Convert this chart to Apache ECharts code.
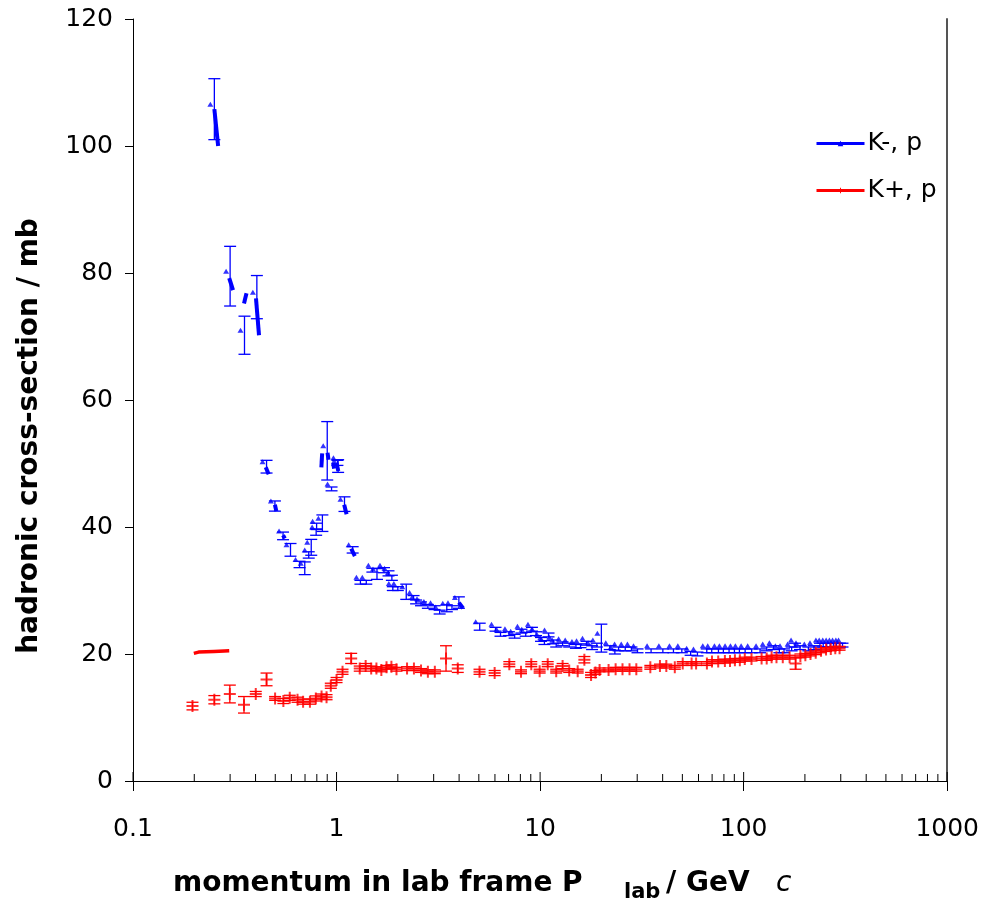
<!DOCTYPE html>
<html>
<head>
<meta charset="utf-8">
<script src="https://cdn.jsdelivr.net/npm/echarts@6/dist/echarts.min.js"></script>
<style>
  html, body { margin: 0; padding: 0; background: #fff; }
  #chart { width: 982px; height: 904px; }
</style>
</head>
<body>
<div id="chart"></div>
<script>
// K-p total cross-section: [momentum GeV/c, sigma mb, error mb]
const kMinusPoints = [
  [0.251,105.8,4.8],[0.300,79.5,4.7],[0.353,70.2,3.0],[0.406,76.2,3.4],
  [0.453,49.5,1.0],[0.498,43.3,0.8],[0.546,38.6,0.6],[0.594,36.4,1.0],
  [0.658,34.1,0.5],[0.698,33.5,1.0],[0.730,35.6,0.5],[0.751,36.8,1.25],
  [0.794,39.2,0.5],[0.798,40.1,0.5],[0.852,40.6,1.3],[0.900,52.0,4.6],
  [0.945,46.0,0.3],[1.01,50.1,0.4],[1.018,49.6,1.0],[1.094,43.6,1.15],
  [1.20,36.4,0.5],[1.31,31.3,0.3],[1.40,31.3,0.3],[1.50,33.2,0.3],
  [1.58,32.6,0.85],[1.71,33.2,0.4],[1.80,32.7,0.4],[1.87,32.0,0.4],
  [1.89,30.3,0.3],[2.00,30.3,0.3],[2.20,29.8,1.2],[2.39,28.9,0.3],
  [2.46,28.2,0.3],[2.60,27.9,0.3],[2.81,27.5,0.3],[3.03,27.3,0.3],
  [3.21,26.6,0.3],[3.48,27.2,0.55],[3.69,27.3,0.3],[3.99,28.1,0.9],
  [5.05,24.3,0.55],[6.04,23.9,0.3],[6.39,23.1,0.3],[7.03,23.2,0.3],
  [7.50,22.8,0.3],[8.10,23.6,0.3],[8.50,23.1,0.3],[9.12,23.9,0.3],
  [9.55,23.2,0.3],[10.1,22.3,0.3],[10.5,21.8,0.3],[11.0,23.0,0.3],
  [11.6,21.9,0.3],[12.0,21.4,0.3],[12.9,21.6,0.3],[13.9,21.4,0.3],
  [15.0,21.2,0.3],[15.8,21.3,0.3],[16.9,21.7,0.3],[18.0,21.0,0.3],
  [19.0,21.4,0.3],[20.0,22.5,2.2],[22.0,21.0,0.3],[23.3,20.3,0.3],
  [24.3,20.8,0.3],[26.2,20.8,0.3],[28.1,20.8,0.3],[30.1,20.5,0.3],
  [35.1,20.5,0.3],[40.1,20.5,0.3],[45.2,20.5,0.3],[49.7,20.5,0.3],
  [54.9,20.1,0.3],[59.3,20.0,0.3],[65.9,20.5,0.3],[69.7,20.5,0.3],
  [75.2,20.5,0.3],[79.5,20.5,0.3],[84.8,20.5,0.3],[90.1,20.5,0.3],
  [95.3,20.5,0.3],[101.7,20.5,0.3],[109.5,20.5,0.3],[120.4,20.5,0.3],
  [129.8,20.8,0.3],[140,21.0,0.3],[149.8,20.5,0.3],[157.9,20.5,0.3],
  [172.1,20.8,0.3],[178.9,21.4,0.3],[189.2,21.0,0.3],[207.9,20.8,0.3],
  [221.6,21.0,0.3],[237,21.4,0.3],[246,21.4,0.3],[256,21.4,0.3],
  [266,21.4,0.3],[276,21.4,0.3],[286,21.4,0.3],[297,21.4,0.3],[306,21.4,0.3]
];

// densely sampled K-p runs, drawn as continuous strokes
const kMinusDense = [
  [[0.251,105.8],[0.262,100.0]],
  [[0.297,79.2],[0.310,77.3]],
  [[0.351,75.2],[0.361,76.8]],
  [[0.402,76.0],[0.416,70.2]],
  [[0.449,49.4],[0.464,48.3]],
  [[0.498,43.5],[0.506,42.5]],
  [[0.546,38.7],[0.557,38.2]],
  [[0.842,49.4],[0.850,51.6]],
  [[0.903,51.7],[0.913,50.6]],
  [[0.962,50.1],[0.973,49.2]],
  [[1.00,50.1],[1.02,48.8]],
  [[1.09,43.5],[1.12,42.0]],
  [[1.18,36.6],[1.23,35.4]],
  [[3.99,28.1],[4.18,27.2]]
];

// K+p total cross-section: [momentum GeV/c, sigma mb, error mb]
const kPlusPoints = [
  [0.196,11.8,0.6],[0.251,12.8,0.65],[0.299,13.7,1.4],[0.351,12.0,1.3],
  [0.401,13.7,0.4],[0.453,16.0,1.0],[0.499,13.0,0.3],[0.548,12.6,0.4],
  [0.589,13.1,0.4],[0.643,12.8,0.4],[0.685,12.5,0.4],[0.740,12.5,0.4],
  [0.791,13.0,0.4],[0.844,13.3,0.4],[0.893,13.2,0.4],[0.937,15.0,0.4],
  [1.0,15.9,0.4],[1.07,17.2,0.4],[1.18,19.3,0.8],[1.30,17.7,0.4],
  [1.39,18.1,0.4],[1.48,17.7,0.4],[1.57,17.7,0.3],[1.66,17.5,0.3],
  [1.76,17.9,0.3],[1.86,18.0,0.3],[1.97,17.6,0.3],[2.22,17.7,0.3],
  [2.40,17.7,0.3],[2.60,17.4,0.3],[2.81,17.2,0.3],[3.04,17.2,0.3],
  [3.45,19.3,2.0],[3.94,17.7,0.6],[5.04,17.2,0.4],[5.98,17.0,0.4],
  [7.06,18.4,0.4],[8.06,17.2,0.3],[9.05,18.4,0.4],[9.95,17.3,0.3],
  [10.9,18.4,0.4],[12.0,17.3,0.3],[12.9,18.1,0.4],[13.9,17.4,0.3],
  [15.3,17.3,0.3],[16.5,19.1,0.5],[17.8,16.7,0.4],[18.7,17.1,0.3],
  [19.6,17.5,0.3],[21.7,17.5,0.3],[23.5,17.6,0.3],[25.4,17.6,0.3],
  [27.5,17.6,0.3],[29.7,17.6,0.3],[34.8,17.9,0.3],[38.8,18.1,0.3],
  [41.7,18.1,0.3],[45.9,17.9,0.3],[50.2,18.5,0.3],[55.5,18.5,0.3],
  [58.4,18.5,0.3],[66.0,18.5,0.3],[69.9,18.8,0.3],[75.0,18.8,0.3],
  [80.9,18.9,0.3],[85.7,18.9,0.3],[90.6,19.0,0.3],[95.8,19.0,0.3],
  [101.3,19.2,0.3],[109.3,19.2,0.3],[122.5,19.3,0.3],[129.8,19.3,0.3],
  [137.2,19.5,0.3],[145,19.5,0.3],[155.7,19.5,0.3],[168.2,19.5,0.3],
  [180,18.5,0.9],[190,19.7,0.3],[201,19.8,0.3],[213,20.0,0.3],
  [226,20.2,0.3],[240,20.5,0.3],[254,20.7,0.3],[268,20.8,0.3],
  [282,20.9,0.3],[296,20.9,0.3]
];

// densely sampled K+p run at low momentum
const kPlusDense = [
  [[0.199,20.1],[0.21,20.3],[0.25,20.4],[0.297,20.5]]
];

const xTicks = [0.1, 1, 10, 100, 1000];
const yTicks = [0, 20, 40, 60, 80, 100, 120];

const BLUE = '#0000ff';
const RED = '#ff0000';
const FONT = 'DejaVu Sans';
const PLUS = 'path://M5,0h2v5h5v2h-5v5h-2v-5h-5v-2h5z';

// minor decade ticks 2..9 between the labelled decades
const minorTicks = [];
for (let d = 0; d < xTicks.length - 1; d++) {
  for (let k = 2; k <= 9; k++) minorTicks.push(+(xTicks[d] * k).toPrecision(3));
}

function errorBars(color) {
  return function (params, api) {
    const x = api.value(0), y = api.value(1), e = api.value(2);
    const top = api.coord([x, y + e]);
    const bot = api.coord([x, y - e]);
    const hw = 6;
    const st = { stroke: color, lineWidth: 1.3 };
    return {
      type: 'group',
      children: [
        { type: 'line', shape: { x1: top[0], y1: top[1], x2: bot[0], y2: bot[1] }, style: st },
        { type: 'line', shape: { x1: top[0] - hw, y1: top[1], x2: top[0] + hw, y2: top[1] }, style: st },
        { type: 'line', shape: { x1: bot[0] - hw, y1: bot[1], x2: bot[0] + hw, y2: bot[1] }, style: st }
      ]
    };
  };
}

function upTicks(len) {
  return function (params, api) {
    const p = api.coord([api.value(0), 0]);
    return {
      type: 'line',
      shape: { x1: p[0], y1: p[1], x2: p[0], y2: p[1] - len },
      style: { stroke: '#000', lineWidth: 1 }
    };
  };
}

const series = [];
kMinusDense.forEach(seg => series.push({
  name: 'K-, p', type: 'line', data: seg, showSymbol: false,
  symbol: 'triangle', symbolSize: 6,
  lineStyle: { color: BLUE, width: 4 }, itemStyle: { color: BLUE },
  silent: true, z: 3
}));
kPlusDense.forEach(seg => series.push({
  name: 'K+, p', type: 'line', data: seg, showSymbol: false,
  symbol: PLUS, symbolSize: 12,
  lineStyle: { color: RED, width: 3.5 }, itemStyle: { color: RED },
  silent: true, z: 3
}));
series.push(
  { name: 'K-, p', type: 'custom', data: kMinusPoints, renderItem: errorBars(BLUE), encode: { x: 0, y: 1 }, z: 2 },
  { name: 'K-, p', type: 'scatter', data: kMinusPoints.map(d => [d[0], d[1]]),
    symbol: 'triangle', symbolSize: [6, 5], symbolOffset: [-4, -5],
    itemStyle: { color: BLUE }, z: 4 },
  { name: 'K+, p', type: 'custom', data: kPlusPoints, renderItem: errorBars(RED), encode: { x: 0, y: 1 }, z: 2 },
  { name: 'K+, p', type: 'scatter', data: kPlusPoints.map(d => [d[0], d[1]]),
    symbol: PLUS, symbolSize: 12, itemStyle: { color: RED }, z: 4 },
  { type: 'custom', data: xTicks.map(v => [v, 0]), renderItem: upTicks(9), encode: { x: 0, y: 1 }, clip: false, silent: true, z: 5 },
  { type: 'custom', data: minorTicks.map(v => [v, 0]), renderItem: upTicks(7), encode: { x: 0, y: 1 }, clip: false, silent: true, z: 5 }
);

const chart = echarts.init(document.getElementById('chart'), null, { renderer: 'canvas' });
chart.setOption({
  animation: false,
  backgroundColor: '#fff',
  grid: { left: 133, right: 34, top: 19, bottom: 123 },
  legend: {
    data: ['K-, p', 'K+, p'],
    orient: 'vertical',
    left: 810, top: 126,
    itemWidth: 48, itemHeight: 7, itemGap: 22,
    lineStyle: { width: 3 },
    textStyle: { fontFamily: FONT, fontSize: 25, color: '#000', padding: [0, 0, 0, -2] },
    selectedMode: false
  },
  xAxis: [
    {
      type: 'log', logBase: 10, min: xTicks[0], max: xTicks[xTicks.length - 1],
      axisLine: { lineStyle: { color: '#000', width: 1 } },
      axisTick: { show: true, inside: false, length: 10, lineStyle: { color: '#000' } },
      axisLabel: { fontFamily: FONT, fontSize: 25, color: '#000', margin: 36,
        formatter: v => String(v) },
      splitLine: { show: false }, minorTick: { show: false }
    },
    {
      type: 'log', logBase: 10, min: xTicks[0], max: xTicks[xTicks.length - 1], position: 'top',
      axisLine: { lineStyle: { color: '#000', width: 1 } },
      axisTick: { show: false }, axisLabel: { show: false }, splitLine: { show: false }
    }
  ],
  yAxis: [
    {
      type: 'value', min: yTicks[0], max: yTicks[yTicks.length - 1], interval: 20,
      axisLine: { show: true, lineStyle: { color: '#000', width: 1 } },
      axisTick: { show: true, inside: false, length: 8, lineStyle: { color: '#000' } },
      axisLabel: { fontFamily: FONT, fontSize: 25, color: '#000', margin: 20 },
      splitLine: { show: false }
    },
    {
      type: 'value', min: yTicks[0], max: yTicks[yTicks.length - 1], position: 'right',
      axisLine: { show: true, lineStyle: { color: '#555', width: 2 } },
      axisTick: { show: false }, axisLabel: { show: false }, splitLine: { show: false }
    }
  ],
  graphic: [
    {
      type: 'text', x: 30, y: 436, rotation: Math.PI / 2,
      style: {
        text: 'hadronic cross-section / mb',
        font: 'bold 28px "DejaVu Sans"', fill: '#000',
        align: 'center', verticalAlign: 'middle'
      }
    },
    {
      type: 'text', x: 173, y: 884,
      style: { text: 'momentum in lab frame P', font: 'bold 28px "DejaVu Sans"', fill: '#000',
        align: 'left', verticalAlign: 'middle' }
    },
    {
      type: 'text', x: 624, y: 893,
      style: { text: 'lab', font: 'bold 21px "DejaVu Sans"', fill: '#000',
        align: 'left', verticalAlign: 'middle' }
    },
    {
      type: 'text', x: 666, y: 884,
      style: { text: '/ GeV', font: 'bold 28px "DejaVu Sans"', fill: '#000',
        align: 'left', verticalAlign: 'middle' }
    },
    {
      type: 'text', x: 776, y: 884,
      style: { text: 'c', font: 'italic 28px "DejaVu Sans"', fill: '#000',
        align: 'left', verticalAlign: 'middle' }
    }
  ],
  series: series
});
</script>
</body>
</html>
